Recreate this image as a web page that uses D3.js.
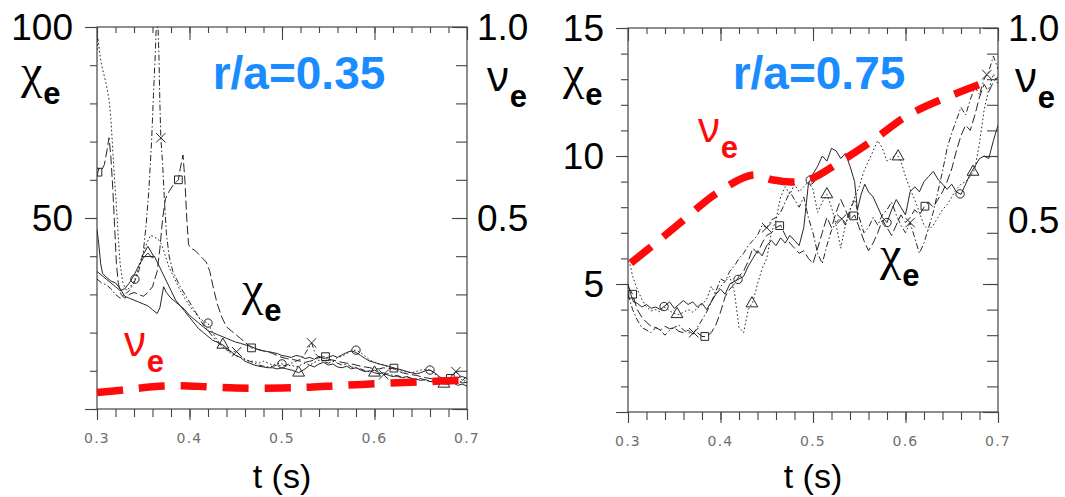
<!DOCTYPE html>
<html>
<head>
<meta charset="utf-8">
<script src="https://cdn.jsdelivr.net/npm/d3@7"></script>
<style>
  html, body { margin: 0; padding: 0; background: #fff; }
  svg { display: block; font-family: "Liberation Sans", Arial, sans-serif; }
</style>
</head>
<body>
<svg id="chart" width="1065" height="497"></svg>
<script>
// ---------- time axis ----------
const timeDomain = [0.3, 0.7];
const timeTickLabels = ["0.3", "0.4", "0.5", "0.6", "0.7"];

// ---------- r/a = 0.35 : electron heat diffusivity (m^2/s) ----------
const coreChiMajor = [0, 50, 100];
const coreChiLabels = ["50", "100"];
const coreNuLabels = ["0.5", "1.0"];

// solid, triangles
const coreChiA = [[0.300,36],[0.305,35],[0.310,34],[0.315,33],[0.320,32],[0.325,31],[0.330,31.5],[0.335,33],[0.340,35],[0.345,37.5],[0.350,39.5],[0.355,40.8],[0.360,39.5],[0.362,40],[0.365,38.5],[0.370,36],[0.375,33.5],[0.380,31],[0.385,28.5],[0.390,27],[0.395,25.5],[0.400,24],[0.405,22.5],[0.410,21],[0.415,20],[0.420,19],[0.425,18],[0.430,17.5],[0.436,16.8],[0.440,16],[0.445,15],[0.450,14],[0.455,13.5],[0.460,12.5],[0.465,12],[0.470,11.5],[0.475,11.2],[0.480,11],[0.485,10.8],[0.490,10.8],[0.495,10.5],[0.500,10.8],[0.505,10.5],[0.510,10.2],[0.515,9.8],[0.518,9.5],[0.525,10.5],[0.530,11.5],[0.535,11],[0.540,11.8],[0.545,12.2],[0.550,11.5],[0.555,11.8],[0.560,11],[0.565,10.8],[0.570,11.2],[0.575,10.5],[0.580,10.8],[0.585,10.2],[0.590,9.8],[0.595,10],[0.600,9.5],[0.605,9.2],[0.610,9.5],[0.615,8.8],[0.620,8.5],[0.625,8.8],[0.630,8.2],[0.635,8.5],[0.640,8],[0.645,7.8],[0.650,7.5],[0.655,7.7],[0.660,7.2],[0.665,7],[0.670,6.8],[0.675,6.6],[0.680,6.5],[0.685,6.8],[0.690,6.2],[0.695,6.5],[0.700,6.0]];
// thin solid, no symbols
const coreChiB = [[0.300,47],[0.302,43],[0.304,38],[0.306,35.5],[0.310,34.5],[0.315,33.5],[0.320,33],[0.325,31.5],[0.330,29.5],[0.335,29],[0.340,28.5],[0.345,28],[0.350,27.5],[0.355,27],[0.360,26],[0.365,25],[0.368,26.5],[0.372,32],[0.375,30.5],[0.380,29],[0.385,28],[0.390,27],[0.395,26],[0.400,24.5],[0.405,23.5],[0.410,22.5],[0.415,21.5],[0.420,20.5],[0.425,20],[0.430,19.5],[0.435,19],[0.440,18.5],[0.445,18],[0.450,17.5],[0.455,17.2],[0.460,16.8],[0.465,16.5],[0.470,16],[0.475,15.5],[0.480,15.2],[0.485,15],[0.490,14.8],[0.495,14.5],[0.500,14],[0.505,13.8],[0.510,13.5],[0.515,14],[0.520,13.8],[0.525,13.2],[0.530,13.5],[0.535,13],[0.540,13.8],[0.545,13.2],[0.550,13.5],[0.555,14],[0.560,13.5],[0.565,14.2],[0.570,14.8],[0.575,15.2],[0.580,14.8],[0.585,14],[0.590,13.2],[0.595,12.5],[0.600,12.2],[0.605,11.8],[0.610,11.5],[0.615,11.2],[0.620,10.8],[0.625,10.5],[0.630,10.2],[0.635,9.8],[0.640,9.5],[0.645,9.2],[0.650,9.5],[0.655,10],[0.660,10.2],[0.665,9.5],[0.670,8.5],[0.675,7.8],[0.680,7.5],[0.685,7.8],[0.690,8.2],[0.695,8.5],[0.700,8]];
// dotted, circles
const coreChiC = [[0.300,94],[0.301,97],[0.303,93],[0.305,90],[0.307,88],[0.310,85],[0.313,81],[0.315,76],[0.317,68],[0.319,60],[0.321,53],[0.323,45],[0.325,38],[0.328,33],[0.332,31],[0.336,32],[0.341,34],[0.345,37],[0.350,41],[0.355,44],[0.358,45.5],[0.362,45],[0.366,44.5],[0.370,43],[0.374,40],[0.378,37],[0.382,35],[0.386,33],[0.390,31],[0.395,29],[0.400,27],[0.405,25.5],[0.410,24],[0.415,23],[0.420,22.5],[0.425,20],[0.430,18],[0.435,16.5],[0.440,15.5],[0.445,14.5],[0.450,14],[0.455,13.5],[0.460,13],[0.465,12.5],[0.470,12.5],[0.475,12],[0.480,12.5],[0.485,12],[0.490,11.5],[0.495,12],[0.500,11.8],[0.505,11.2],[0.510,11.5],[0.515,11],[0.520,11.5],[0.525,12],[0.530,11.5],[0.535,12.2],[0.540,12.8],[0.545,12.5],[0.550,13],[0.555,12.5],[0.560,13.5],[0.565,13.8],[0.570,14.5],[0.575,15.2],[0.580,15.4],[0.585,14.8],[0.590,13.8],[0.595,12.8],[0.600,12.2],[0.605,11.8],[0.610,11.5],[0.615,11],[0.620,10.5],[0.625,10.2],[0.630,10],[0.635,9.6],[0.640,9.5],[0.645,9.8],[0.650,10.2],[0.655,10.4],[0.660,10.2],[0.665,9.2],[0.670,8.2],[0.675,7.5],[0.680,7.2],[0.685,7.5],[0.690,7.0],[0.695,7.2],[0.700,7.5]];
// dash-dot, crosses
const coreChiD = [[0.300,34],[0.305,33],[0.310,32.5],[0.315,31.5],[0.320,30],[0.325,29],[0.330,30],[0.335,31],[0.340,33],[0.345,36],[0.350,41],[0.353,48],[0.356,57],[0.359,70],[0.361,82],[0.363,93],[0.364,99.5],[0.366,100],[0.367,92],[0.368,80],[0.369,71],[0.371,64],[0.373,54],[0.375,46],[0.378,40],[0.382,36],[0.386,34],[0.390,32],[0.395,30],[0.400,28],[0.405,26],[0.410,24],[0.415,22],[0.420,20.5],[0.425,19],[0.430,17.5],[0.435,16.5],[0.440,15.5],[0.445,15],[0.451,15],[0.455,14],[0.460,13],[0.465,12.5],[0.470,12],[0.475,11.5],[0.480,11.2],[0.485,11],[0.490,11.2],[0.495,11.5],[0.500,11.2],[0.505,11.5],[0.510,12],[0.515,12.5],[0.520,13],[0.525,14.5],[0.532,17.3],[0.536,14.5],[0.540,13.5],[0.545,12.5],[0.550,12],[0.555,12.5],[0.560,12],[0.565,11.5],[0.570,11.8],[0.575,11],[0.580,10.8],[0.585,10.5],[0.590,10],[0.595,9.8],[0.600,10.2],[0.605,9.5],[0.610,9],[0.615,9.2],[0.620,8.8],[0.625,8.5],[0.630,8.2],[0.635,8.4],[0.640,8],[0.645,7.8],[0.650,8],[0.655,7.5],[0.660,7.2],[0.665,7.5],[0.670,7.2],[0.675,7.8],[0.680,8.2],[0.685,8.8],[0.688,9.8],[0.692,8.5],[0.695,7.5],[0.700,8.5]];
// long dash, squares
const coreChiE = [[0.300,61],[0.302,63],[0.305,62.5],[0.308,64],[0.311,68],[0.313,71],[0.315,66],[0.317,58],[0.319,48],[0.321,38],[0.323,33],[0.326,30],[0.330,29],[0.335,30],[0.340,30.5],[0.345,30],[0.350,29.5],[0.355,30.5],[0.360,32],[0.365,36],[0.368,42],[0.371,50],[0.374,55],[0.378,57],[0.382,58.5],[0.386,59.5],[0.388,60],[0.390,63],[0.393,66.5],[0.395,60],[0.397,50],[0.399,43],[0.402,42],[0.406,41.5],[0.410,40.5],[0.414,39.5],[0.418,38.5],[0.422,36],[0.426,31.5],[0.430,27.5],[0.435,24],[0.440,21.5],[0.445,20.5],[0.450,19.5],[0.455,18.5],[0.460,17.5],[0.467,16],[0.470,15.8],[0.475,15.5],[0.480,15.2],[0.485,15],[0.490,14.5],[0.495,14],[0.500,13.5],[0.505,13.2],[0.510,13],[0.515,12.8],[0.520,12.5],[0.525,12.2],[0.530,12.5],[0.535,12.8],[0.540,13.5],[0.547,13.7],[0.550,13],[0.555,12.8],[0.560,12.5],[0.565,12.2],[0.570,12],[0.575,11.8],[0.580,11.5],[0.585,11.2],[0.590,11],[0.595,10.8],[0.600,10.5],[0.605,10.5],[0.610,10.8],[0.615,10.5],[0.621,10.7],[0.625,10],[0.630,9.5],[0.635,9.2],[0.640,9],[0.645,8.8],[0.650,8.5],[0.655,8.2],[0.660,8],[0.665,7.8],[0.670,7.5],[0.675,7.8],[0.682,8],[0.685,7.5],[0.690,7.2],[0.695,6.8],[0.700,7]];
// normalised collisionality
const coreNu = [[0.30,0.043],[0.33,0.050],[0.36,0.058],[0.39,0.061],[0.42,0.058],[0.45,0.055],[0.50,0.055],[0.53,0.057],[0.56,0.061],[0.60,0.066],[0.64,0.070],[0.67,0.073],[0.70,0.076]];

// ---------- r/a = 0.75 ----------
const edgeChiMajor = [0, 5, 10, 15];
const edgeChiLabels = ["5", "10", "15"];
const edgeNuLabels = ["0.5", "1.0"];

// solid, circles
const edgeChiA = [[0.300,5.0],[0.303,4.6],[0.306,4.3],[0.310,4.25],[0.315,4.1],[0.320,4.2],[0.325,4.05],[0.330,4.1],[0.335,4.0],[0.340,4.15],[0.345,4.3],[0.350,4.05],[0.355,4.2],[0.360,4.35],[0.365,4.2],[0.370,4.3],[0.375,4.1],[0.380,4.25],[0.385,4.0],[0.390,4.3],[0.395,4.6],[0.400,4.8],[0.405,4.6],[0.410,5.0],[0.415,5.1],[0.420,5.2],[0.425,5.3],[0.430,5.7],[0.435,6.0],[0.440,6.3],[0.445,6.1],[0.450,6.5],[0.455,6.7],[0.460,6.5],[0.465,6.8],[0.470,6.6],[0.475,6.9],[0.480,6.7],[0.485,6.5],[0.490,7.2],[0.495,8.9],[0.500,9.3],[0.505,9.6],[0.510,10.0],[0.515,9.8],[0.520,10.3],[0.525,10.2],[0.530,9.9],[0.535,10.1],[0.540,9.6],[0.545,9.0],[0.548,7.9],[0.552,8.5],[0.556,8.9],[0.560,8.6],[0.565,8.4],[0.570,8.0],[0.575,7.6],[0.580,7.4],[0.585,7.9],[0.590,8.3],[0.595,8.0],[0.600,7.7],[0.605,8.6],[0.610,8.8],[0.615,8.6],[0.620,9.0],[0.625,9.2],[0.630,9.4],[0.635,9.1],[0.640,8.9],[0.645,8.7],[0.650,8.9],[0.655,8.6],[0.660,8.5],[0.665,8.9],[0.670,9.3],[0.675,9.6],[0.680,9.9],[0.685,10.0],[0.690,9.9],[0.695,10.6],[0.700,11.2]];
// long dash, squares
const edgeChiB = [[0.300,4.9],[0.305,4.6],[0.310,4.0],[0.315,3.7],[0.320,3.5],[0.325,3.35],[0.330,3.3],[0.335,3.2],[0.340,3.35],[0.345,3.25],[0.350,3.3],[0.355,3.15],[0.360,3.1],[0.365,3.2],[0.370,3.05],[0.375,3.1],[0.380,2.95],[0.385,2.95],[0.390,3.1],[0.395,3.4],[0.400,3.9],[0.405,4.5],[0.410,4.8],[0.415,5.0],[0.420,5.3],[0.425,5.5],[0.430,5.9],[0.435,6.4],[0.440,6.2],[0.445,6.6],[0.450,6.9],[0.455,7.0],[0.460,7.2],[0.465,7.3],[0.470,6.9],[0.475,6.6],[0.480,6.4],[0.485,6.2],[0.490,6.3],[0.495,6.0],[0.500,5.8],[0.505,6.4],[0.510,7.0],[0.515,7.6],[0.520,7.2],[0.525,7.8],[0.530,8.3],[0.535,7.9],[0.540,7.5],[0.545,7.7],[0.550,7.2],[0.555,6.7],[0.560,6.3],[0.565,6.6],[0.570,7.0],[0.575,7.5],[0.580,7.2],[0.585,6.9],[0.590,7.3],[0.595,7.7],[0.600,7.4],[0.605,7.6],[0.610,7.9],[0.615,7.7],[0.620,8.0],[0.625,8.2],[0.630,8.0],[0.635,8.3],[0.640,8.6],[0.645,9.0],[0.650,9.5],[0.655,10.2],[0.660,10.8],[0.665,11.2],[0.670,11.0],[0.675,11.6],[0.680,12.3],[0.685,12.8],[0.690,12.5],[0.695,12.9],[0.700,13.1]];
// dotted, triangles
const edgeChiC = [[0.300,5.9],[0.302,5.8],[0.305,5.3],[0.310,4.8],[0.315,4.4],[0.320,4.1],[0.325,3.95],[0.330,4.0],[0.335,3.9],[0.340,4.1],[0.345,3.95],[0.350,3.85],[0.355,3.8],[0.360,3.9],[0.365,4.0],[0.370,3.9],[0.375,4.05],[0.380,4.2],[0.385,4.4],[0.390,4.9],[0.395,4.6],[0.400,4.9],[0.405,5.1],[0.410,5.3],[0.415,4.7],[0.420,3.3],[0.425,3.1],[0.430,4.0],[0.435,4.3],[0.440,5.0],[0.445,5.6],[0.450,6.0],[0.455,7.0],[0.460,7.5],[0.465,8.4],[0.470,8.8],[0.475,8.5],[0.480,8.9],[0.485,8.6],[0.490,8.8],[0.495,9.0],[0.500,8.7],[0.505,7.8],[0.510,8.2],[0.515,8.5],[0.520,8.0],[0.525,7.3],[0.530,6.4],[0.535,7.3],[0.540,7.9],[0.545,8.4],[0.550,8.8],[0.555,9.4],[0.560,9.8],[0.565,10.2],[0.570,10.6],[0.575,10.3],[0.580,9.8],[0.585,9.9],[0.590,10.1],[0.595,9.8],[0.600,9.2],[0.605,8.7],[0.610,8.3],[0.615,7.8],[0.620,7.3],[0.625,7.1],[0.630,7.3],[0.635,7.6],[0.640,7.9],[0.645,8.1],[0.650,8.4],[0.655,8.7],[0.660,8.9],[0.665,9.0],[0.670,9.2],[0.675,9.5],[0.680,10.5],[0.685,11.8],[0.690,12.6],[0.695,13.2],[0.700,12.8]];
// dash-dot, crosses
const edgeChiD = [[0.300,4.6],[0.305,4.0],[0.310,3.6],[0.315,3.3],[0.320,3.2],[0.325,3.1],[0.330,3.3],[0.335,3.2],[0.340,3.0],[0.345,3.2],[0.350,3.3],[0.355,3.4],[0.360,3.2],[0.365,3.1],[0.370,3.05],[0.375,3.3],[0.380,3.6],[0.385,3.9],[0.390,4.3],[0.395,4.7],[0.400,5.2],[0.405,5.1],[0.410,5.5],[0.415,5.7],[0.420,6.0],[0.425,6.2],[0.430,6.5],[0.435,6.7],[0.440,6.9],[0.445,7.3],[0.450,7.2],[0.455,7.5],[0.460,7.6],[0.465,7.8],[0.470,8.2],[0.475,8.6],[0.480,8.3],[0.485,8.0],[0.490,8.4],[0.495,7.6],[0.500,7.0],[0.505,6.2],[0.510,5.8],[0.515,6.5],[0.520,7.1],[0.525,7.4],[0.530,7.6],[0.535,7.3],[0.540,7.9],[0.545,8.3],[0.550,7.6],[0.555,7.0],[0.560,7.2],[0.565,7.6],[0.570,7.3],[0.575,7.7],[0.580,7.9],[0.585,8.2],[0.590,7.7],[0.595,7.3],[0.600,7.0],[0.605,7.4],[0.610,6.8],[0.615,6.2],[0.620,6.6],[0.625,7.2],[0.630,7.8],[0.635,8.6],[0.640,9.4],[0.645,10.3],[0.650,10.9],[0.655,11.4],[0.660,11.9],[0.665,11.6],[0.670,12.2],[0.675,12.7],[0.680,12.4],[0.685,13.0],[0.690,13.3],[0.695,13.9],[0.700,13.4]];
const edgeNu = [[0.303,0.388],[0.33,0.44],[0.36,0.50],[0.396,0.570],[0.435,0.617],[0.457,0.604],[0.477,0.599],[0.497,0.606],[0.529,0.651],[0.565,0.708],[0.603,0.773],[0.645,0.820],[0.688,0.860]];

// ---------- line and symbol styles ----------
const styles = {
  solid:    { dash: null },
  dotted:   { dash: "1.6,2.4" },
  dashdot:  { dash: "6,2.5,1.5,2.5" },
  longdash: { dash: "9,3.5" }
};

const panels = [
  {
    title: "r/a=0.35", chiMax: 100, chiMinor: 10,
    chiMajor: coreChiMajor, chiLabels: coreChiLabels, nuLabels: coreNuLabels,
    box: { left: 97, right: 467, top: 27, bottom: 409 },
    series: [
      { data: coreChiA, style: "solid",    symbol: d3.symbolTriangle, marks: [0.355, 0.436, 0.518, 0.600, 0.675] },
      { data: coreChiB, style: "solid",    symbol: null,              marks: [] },
      { data: coreChiC, style: "dotted",   symbol: d3.symbolCircle,   marks: [0.341, 0.420, 0.500, 0.580, 0.660] },
      { data: coreChiD, style: "dashdot",  symbol: d3.symbolTimes,    marks: [0.369, 0.451, 0.532, 0.610, 0.688] },
      { data: coreChiE, style: "longdash", symbol: d3.symbolSquare,   marks: [0.301, 0.388, 0.467, 0.547, 0.621, 0.682] }
    ],
    nu: coreNu,
    titlePos: [299, 89],
    chiAxisLabel: [21, 88], nuAxisLabel: [487, 91],
    chiInline: [242, 305], nuInline: [124, 356]
  },
  {
    title: "r/a=0.75", chiMax: 15, chiMinor: 15,
    chiMajor: edgeChiMajor, chiLabels: edgeChiLabels, nuLabels: edgeNuLabels,
    box: { left: 628, right: 998, top: 28, bottom: 412 },
    series: [
      { data: edgeChiA, style: "solid",    symbol: d3.symbolCircle,   marks: [0.339, 0.419, 0.497, 0.580, 0.659] },
      { data: edgeChiB, style: "longdash", symbol: d3.symbolSquare,   marks: [0.305, 0.383, 0.464, 0.544, 0.621] },
      { data: edgeChiC, style: "dotted",   symbol: d3.symbolTriangle, marks: [0.353, 0.434, 0.515, 0.592, 0.673] },
      { data: edgeChiD, style: "dashdot",  symbol: d3.symbolTimes,    marks: [0.371, 0.450, 0.531, 0.605, 0.688] }
    ],
    nu: edgeNu,
    titlePos: [819, 89],
    chiAxisLabel: [563, 89], nuAxisLabel: [1015, 92],
    chiInline: [880, 270], nuInline: [698, 142]
  }
];

const svg = d3.select("#chart");
const axisColor = "#444";
const curveColor = "#262626";
const nuColor = "#ff0a0a";
const titleColor = "#1a8cff";

const greekFont = {
  "χ": { family: "'Liberation Serif', 'DejaVu Serif', serif", size: 48, drop: 0.34 },
  "ν": { family: "'Noto Sans', sans-serif", size: 42, drop: 0.38 }
};

function valueAt(data, t) {
  const i = d3.bisector(d => d[0]).left(data, t);
  if (i <= 0) return data[0][1];
  if (i >= data.length) return data[data.length - 1][1];
  const [t0, v0] = data[i - 1], [t1, v1] = data[i];
  return v0 + (v1 - v0) * (t - t0) / (t1 - t0);
}

// Greek symbol with a bold "e" subscript
function subscripted(g, x, y, main, sub, color) {
  const f = greekFont[main];
  const txt = g.append("text").attr("x", x).attr("y", y).attr("fill", color);
  txt.append("tspan").attr("font-family", f.family)
     .attr("font-size", f.size).text(main);
  txt.append("tspan").attr("font-family", "'Liberation Sans', Arial, sans-serif")
     .attr("font-size", 31).attr("font-weight", "bold")
     .attr("dx", 1).attr("dy", f.size * f.drop).text(sub);
}

function styleAxis(g) {
  g.select(".domain").remove();
  g.selectAll(".tick line").attr("stroke", axisColor).attr("stroke-width", 1.1);
  g.selectAll(".tick text").remove();
}

panels.forEach(p => {
  const b = p.box;
  const x = d3.scaleLinear().domain(timeDomain).range([b.left, b.right]);
  const y = d3.scaleLinear().domain([0, p.chiMax]).range([b.bottom, b.top]);
  const nu = d3.scaleLinear().domain([0, 1]).range([b.bottom, b.top]);
  const g = svg.append("g");

  // frame
  g.append("rect").attr("x", b.left).attr("y", b.top)
    .attr("width", b.right - b.left).attr("height", b.bottom - b.top)
    .attr("fill", "none").attr("stroke", axisColor).attr("stroke-width", 1.2);

  const minorT = x.ticks(20);
  const majorT = x.ticks(4);
  const minorY = y.ticks(p.chiMinor);

  // bottom: outward ticks
  g.append("g").attr("transform", `translate(0,${b.bottom})`)
    .call(d3.axisBottom(x).tickValues(minorT).tickSize(8)).call(styleAxis);
  g.append("g").attr("transform", `translate(0,${b.bottom})`)
    .call(d3.axisBottom(x).tickValues(majorT).tickSize(11)).call(styleAxis);
  // top: inward ticks
  g.append("g").attr("transform", `translate(0,${b.top})`)
    .call(d3.axisBottom(x).tickValues(minorT).tickSize(6)).call(styleAxis);
  g.append("g").attr("transform", `translate(0,${b.top})`)
    .call(d3.axisBottom(x).tickValues(majorT).tickSize(13)).call(styleAxis);
  // left: outward ticks
  g.append("g").attr("transform", `translate(${b.left},0)`)
    .call(d3.axisLeft(y).tickValues(minorY).tickSize(7)).call(styleAxis);
  g.append("g").attr("transform", `translate(${b.left},0)`)
    .call(d3.axisLeft(y).tickValues(p.chiMajor).tickSize(12)).call(styleAxis);
  // right: inward ticks
  g.append("g").attr("transform", `translate(${b.right},0)`)
    .call(d3.axisLeft(y).tickValues(minorY).tickSize(11)).call(styleAxis);
  g.append("g").attr("transform", `translate(${b.right},0)`)
    .call(d3.axisLeft(y).tickValues(p.chiMajor).tickSize(15)).call(styleAxis);

  // time tick labels
  g.selectAll(".tlab").data(majorT).enter().append("text")
    .attr("x", d => x(d)).attr("y", b.bottom + 34)
    .attr("text-anchor", "middle")
    .attr("font-family", "'DejaVu Sans', sans-serif")
    .attr("font-size", 14).attr("letter-spacing", 1.2)
    .attr("fill", "#6e6e6e")
    .text((d, i) => timeTickLabels[i]);

  // chi tick labels (left) and nu tick labels (right)
  const chiVals = p.chiMajor.slice(1);
  g.selectAll(".ylab").data(chiVals).enter().append("text")
    .attr("x", b.left - 24).attr("y", d => y(d) + 13)
    .attr("text-anchor", "end").attr("font-size", 37).attr("fill", "#000")
    .text((d, i) => p.chiLabels[i]);
  g.selectAll(".nlab").data([0.5, 1.0]).enter().append("text")
    .attr("x", b.right + 10).attr("y", d => nu(d) + 13)
    .attr("text-anchor", "start").attr("font-size", 37).attr("fill", "#000")
    .text((d, i) => p.nuLabels[i]);

  // chi traces
  const line = d3.line().x(d => x(d[0])).y(d => y(d[1]));
  const clipId = "clip-" + p.title.replace(/[^0-9]/g, "");
  g.append("clipPath").attr("id", clipId).append("rect")
    .attr("x", b.left).attr("y", b.top - 2)
    .attr("width", b.right - b.left).attr("height", b.bottom - b.top + 2);
  const traces = g.append("g").attr("clip-path", `url(#${clipId})`);
  p.series.forEach(s => {
    traces.append("path").datum(s.data)
      .attr("d", line).attr("fill", "none")
      .attr("stroke", curveColor).attr("stroke-width", 1)
      .attr("stroke-dasharray", styles[s.style].dash);
    if (s.symbol) {
      const sym = d3.symbol().type(s.symbol).size(s.symbol === d3.symbolCircle ? 55 : 60);
      traces.selectAll(null).data(s.marks).enter().append("path")
        .attr("d", sym)
        .attr("transform", t => `translate(${x(t)},${y(valueAt(s.data, t))})`)
        .attr("fill", "none").attr("stroke", curveColor).attr("stroke-width", 1);
    }
  });

  // collisionality
  const nuLine = d3.line().x(d => x(d[0])).y(d => nu(d[1])).curve(d3.curveCatmullRom);
  g.append("path").datum(p.nu).attr("d", nuLine)
    .attr("fill", "none").attr("stroke", nuColor).attr("stroke-width", 7.5)
    .attr("stroke-dasharray", "26,16");

  // annotations
  g.append("text").attr("x", p.titlePos[0]).attr("y", p.titlePos[1])
    .attr("text-anchor", "middle").attr("font-size", 46).attr("font-weight", "bold")
    .attr("fill", titleColor).text(p.title);
  subscripted(g, p.chiAxisLabel[0], p.chiAxisLabel[1], "χ", "e", "#000");
  subscripted(g, p.nuAxisLabel[0], p.nuAxisLabel[1], "ν", "e", "#000");
  subscripted(g, p.chiInline[0], p.chiInline[1], "χ", "e", "#000");
  subscripted(g, p.nuInline[0], p.nuInline[1], "ν", "e", nuColor);

  g.append("text").attr("x", (b.left + b.right) / 2).attr("y", 488)
    .attr("text-anchor", "middle").attr("font-size", 34).attr("fill", "#000")
    .text("t (s)");
});
</script>
</body>
</html>
